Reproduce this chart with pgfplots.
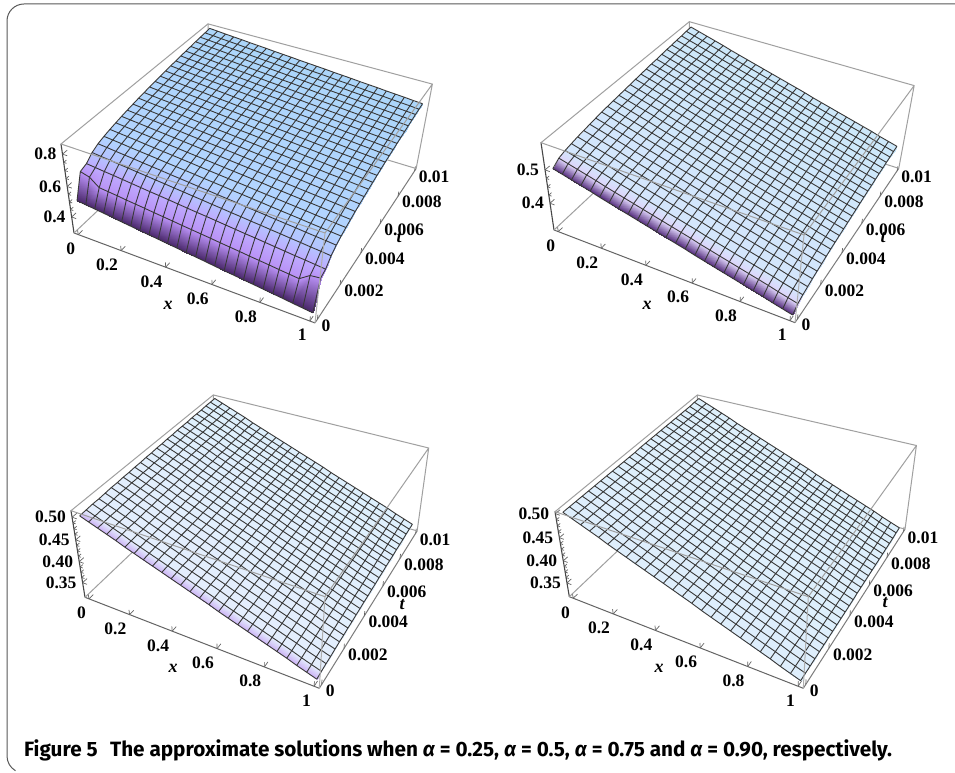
\documentclass[border=0pt]{standalone}
\usepackage{pgfplots}
\usepackage{fontspec}
\pgfplotsset{compat=1.18}
\setmainfont{Liberation Serif}
\newfontfamily\capfont{Fira Sans}
\makeatletter
\newdimen\pNx \newdimen\pNy \newdimen\pWz \newdimen\phx \newdimen\phy \newdimen\phz \newdimen\pWd \newdimen\pCx \newdimen\pCy
% perspective version of pgfplots' projection of a data point
\def\perspqpoint#1#2#3{%
  \pWd=\pWz \advance\pWd by #1\phx \advance\pWd by #2\phy \advance\pWd by #3\phz
  \global\pgf@x=#1\pgf@xx \global\advance\pgf@x by #2\pgf@yx \global\advance\pgf@x by #3\pgf@zx \global\advance\pgf@x by \pNx
  \global\pgf@y=#1\pgf@xy \global\advance\pgf@y by #2\pgf@yy \global\advance\pgf@y by #3\pgf@zy \global\advance\pgf@y by \pNy
  \global\pgf@x=\dimexpr\pgf@x*65536/\number\pWd+\pCx\relax
  \global\pgf@y=\dimexpr\pgf@y*65536/\number\pWd+\pCy\relax}
\makeatother
% box corners in picture coordinates; \P,\Q,\R,\zmn,\zmx set beforehand
\newcommand\setpersp[8]{%
  \pgfmathsetmacro\cx{(#3+#5+#7-#1)/2}\pgfmathsetmacro\cy{(773-#4+773-#6+773-#8-773+#2)/2}%
  \pCx=\cx pt \pCy=\cy pt
  \pgfmathsetmacro\ax{#1-\cx}\pgfmathsetmacro\ay{773-#2-\cy}%
  \pgfmathsetmacro\vxx{((#3-\cx)*\P-\ax)/26}\pgfmathsetmacro\vxy{((773-#4-\cy)*\P-\ay)/26}%
  \pgfmathsetmacro\vyx{((#5-\cx)*\Q-\ax)/26}\pgfmathsetmacro\vyy{((773-#6-\cy)*\Q-\ay)/26}%
  \pgfmathsetmacro\vzx{((#7-\cx)*\R-\ax)/(\zmx-\zmn)}\pgfmathsetmacro\vzy{((773-#8-\cy)*\R-\ay)/(\zmx-\zmn)}%
  \pgfmathsetlengthmacro\tmp{\ax+.5*\vxx+.5*\vyx-\zmn*\vzx}\pNx=\tmp
  \pgfmathsetlengthmacro\tmp{\ay+.5*\vxy+.5*\vyy-\zmn*\vzy}\pNy=\tmp
  \pgfmathsetlengthmacro\tmp{1+.5*(\P-1)/26+.5*(\Q-1)/26-\zmn*(\R-1)/(\zmx-\zmn)}\pWz=\tmp
  \pgfmathsetlengthmacro\tmp{(\P-1)/26}\phx=\tmp
  \pgfmathsetlengthmacro\tmp{(\Q-1)/26}\phy=\tmp
  \pgfmathsetlengthmacro\tmp{(\R-1)/(\zmx-\zmn)}\phz=\tmp
  \pgfmathsetmacro\ox{\cx+(\ax+.5*\vxx+.5*\vyx)/(1+.5*(\P-1)/26+.5*(\Q-1)/26)}%
  \pgfmathsetmacro\oy{\cy+(\ay+.5*\vxy+.5*\vyy)/(1+.5*(\P-1)/26+.5*(\Q-1)/26)}}
% rows of u in thousandths -> coordinate lists (surface; grid lines along x and t)
\newcount\gi \newcount\gj \newcount\gk
\def\cc#1{\csname cl\number#1\endcsname}
\def\scannum#1 {\ifx @#1\let\next\relax\else
  \xdef\acc{\acc(\the\gi,\the\gj,0.#1)}%
  \xdef\accl{\accl(\the\gi,\the\gj,0.#1)}%
  \expandafter\xdef\csname cl\the\gi\endcsname{\cc\gi(\the\gi,\the\gj,0.#1)}%
  \global\advance\gi 1 \ifnum\gi=26 \global\gi=0 \global\advance\gj 1 \xdef\accl{\accl(nan,nan,nan)}\fi\let\next\scannum\fi\next}
\newcommand\loaddata[1]{\gdef\acc{}\gdef\accl{}\global\gi=0 \global\gj=0
  \gk=0 \loop\expandafter\gdef\csname cl\the\gk\endcsname{}\advance\gk 1 \ifnum\gk<26 \repeat
  \expandafter\scannum#1@ %
  \gk=0 \loop\xdef\accl{\accl\cc\gk(nan,nan,nan)}\advance\gk 1 \ifnum\gk<26 \repeat}
\newcommand\plotsurf[1]{\addplot3[surf,shader=interp,mesh/rows=26,mesh/cols=26,mesh/ordering=x varies,point meta=y,point meta min=0,point meta max=25] coordinates {#1};}
\newcommand\plotgrid[1]{\addplot3[black!78,line width=.9pt,mark=none,unbounded coords=jump,line join=round] coordinates {#1};}
\newcommand\row[2]{\expandafter\def\csname r#1\endcsname{#2 }}
\def\r#1{\csname r#1\endcsname}
\row{0}{500 493 486 479 472 464 457 450 443 436 429 422 415 408 401 393 386 379 372 365 358 351 344 336 329 322}
\row{1}{501 494 487 480 473 465 458 451 444 437 430 423 416 409 402 394 387 380 373 366 359 352 345 337 330 323}
\row{2}{502 495 488 481 474 466 459 452 445 438 431 424 417 410 403 395 388 381 374 367 360 353 346 338 331 324}
\row{3}{503 496 489 482 475 467 460 453 446 439 432 425 418 411 404 396 389 382 375 368 361 354 347 339 332 325}
\row{4}{504 497 490 483 476 468 461 454 447 440 433 426 419 412 405 397 390 383 376 369 362 355 348 340 333 326}
\row{5}{505 498 491 484 477 469 462 455 448 441 434 427 420 413 406 398 391 384 377 370 363 356 349 341 334 327}
\row{6}{506 499 492 485 478 470 463 456 449 442 435 428 421 414 407 399 392 385 378 371 364 357 350 342 335 328}
\row{7}{507 500 493 486 479 471 464 457 450 443 436 429 422 415 408 400 393 386 379 372 365 358 351 343 336 329}
\row{8}{508 501 494 487 480 472 465 458 451 444 437 430 423 416 409 401 394 387 380 373 366 359 352 344 337 330}
\row{9}{509 502 495 488 481 473 466 459 452 445 438 431 424 417 410 402 395 388 381 374 367 360 353 345 338 331}
\row{10}{510 503 496 489 482 474 467 460 453 446 439 432 425 418 411 403 396 389 382 375 368 361 354 346 339 332}
\row{11}{511 504 497 490 483 475 468 461 454 447 440 433 426 419 412 404 397 390 383 376 369 362 355 347 340 333}
\row{12}{512 505 498 491 484 476 469 462 455 448 441 434 427 420 413 405 398 391 384 377 370 363 356 348 341 334}
\row{14}{514 507 500 493 486 478 471 464 457 450 443 436 429 422 415 407 400 393 386 379 372 365 358 350 343 336}
\row{20}{520 513 506 499 492 484 477 470 463 456 449 442 435 428 421 413 406 399 392 385 378 371 364 356 349 342}
\row{24}{524 517 510 503 496 488 481 474 467 460 453 446 439 432 425 417 410 403 396 389 382 375 368 360 353 346}
\row{28}{528 521 514 507 500 492 485 478 471 464 457 450 443 436 429 421 414 407 400 393 386 379 372 364 357 350}
\row{31}{531 524 517 510 503 495 488 481 474 467 460 453 446 439 432 424 417 410 403 396 389 382 375 367 360 353}
\row{34}{534 527 520 513 506 498 491 484 477 470 463 456 449 442 435 427 420 413 406 399 392 385 378 370 363 356}
\row{37}{537 530 523 516 509 501 494 487 480 473 466 459 452 445 438 430 423 416 409 402 395 388 381 373 366 359}
\row{40}{540 533 526 519 512 504 497 490 483 476 469 462 455 448 441 433 426 419 412 405 398 391 384 376 369 362}
\row{42}{542 535 528 521 514 506 499 492 485 478 471 464 457 450 443 435 428 421 414 407 400 393 386 378 371 364}
\row{44}{544 537 530 523 516 508 501 494 487 480 473 466 459 452 445 437 430 423 416 409 402 395 388 380 373 366}
\row{46}{546 539 532 525 518 510 503 496 489 482 475 468 461 454 447 439 432 425 418 411 404 397 390 382 375 368}
\row{48}{548 541 534 527 520 512 505 498 491 484 477 470 463 456 449 441 434 427 420 413 406 399 392 384 377 370}
\row{50}{550 543 536 529 522 514 507 500 493 486 479 472 465 458 451 443 436 429 422 415 408 401 394 386 379 372}
\row{52}{552 545 538 531 524 516 509 502 495 488 481 474 467 460 453 445 438 431 424 417 410 403 396 388 381 374}
\row{54}{554 547 540 533 526 518 511 504 497 490 483 476 469 462 455 447 440 433 426 419 412 405 398 390 383 376}
\row{56}{556 549 542 535 528 520 513 506 499 492 485 478 471 464 457 449 442 435 428 421 414 407 400 392 385 378}
\row{58}{558 551 544 537 530 522 515 508 501 494 487 480 473 466 459 451 444 437 430 423 416 409 402 394 387 380}
\row{59}{559 552 545 538 531 523 516 509 502 495 488 481 474 467 460 452 445 438 431 424 417 410 403 395 388 381}
\row{61}{561 554 547 540 533 525 518 511 504 497 490 483 476 469 462 454 447 440 433 426 419 412 405 397 390 383}
\row{63}{563 556 549 542 535 527 520 513 506 499 492 485 478 471 464 456 449 442 435 428 421 414 407 399 392 385}
\row{64}{564 557 550 543 536 528 521 514 507 500 493 486 479 472 465 457 450 443 436 429 422 415 408 400 393 386}
\row{66}{566 559 552 545 538 530 523 516 509 502 495 488 481 474 467 459 452 445 438 431 424 417 410 402 395 388}
\row{67}{567 560 553 546 539 531 524 517 510 503 496 489 482 475 468 460 453 446 439 432 425 418 411 403 396 389}
\row{69}{569 562 555 548 541 533 526 519 512 505 498 491 484 477 470 462 455 448 441 434 427 420 413 405 398 391}
\row{70}{570 563 556 549 542 534 527 520 513 506 499 492 485 478 471 463 456 449 442 435 428 421 414 406 399 392}
\def\dataA{500 493 486 479 472 464 457 450 443 436 429 422 415 408 401 393 386 379 372 365 358 351 344 336 329 322
650 634 587 581 575 568 562 556 549 543 537 530 524 518 512 505 499 493 486 480 474 467 461 455 500 507
665 659 653 648 642 636 630 624 619 613 607 601 595 590 584 578 572 566 561 555 549 543 537 532 526 520
700 694 689 683 678 672 667 661 656 650 645 639 634 628 623 617 612 606 601 595 590 584 579 573 568 562
721 716 710 705 700 694 689 684 678 673 668 662 657 651 646 641 635 630 625 619 614 609 603 598 593 587
734 729 724 718 713 708 703 697 692 687 682 676 671 666 660 655 650 645 639 634 629 624 618 613 608 603
745 740 735 730 724 719 714 709 704 699 693 688 683 678 673 668 662 657 652 647 642 637 631 626 621 616
754 749 744 739 734 729 723 718 713 708 703 698 693 688 683 678 673 667 662 657 652 647 642 637 632 627
763 758 753 748 743 738 733 728 723 718 713 708 703 698 693 688 683 678 673 668 663 658 653 648 643 638
771 766 761 756 751 746 741 736 731 726 722 717 712 707 702 697 692 687 682 677 672 667 662 657 652 647
778 773 768 763 758 754 749 744 739 734 729 724 719 714 709 704 700 695 690 685 680 675 670 665 660 655
785 780 775 770 766 761 756 751 746 741 737 732 727 722 717 712 708 703 698 693 688 683 679 674 669 664
791 786 781 777 772 767 762 757 753 748 743 738 734 729 724 719 714 710 705 700 695 690 686 681 676 671
797 792 788 783 778 773 769 764 759 754 750 745 740 735 731 726 721 716 712 707 702 697 693 688 683 679
803 798 794 789 784 780 775 770 765 761 756 751 747 742 737 733 728 723 718 714 709 704 700 695 690 686
808 803 799 794 789 785 780 775 771 766 761 757 752 747 743 738 733 729 724 719 715 710 705 701 696 692
813 808 804 799 795 790 785 781 776 771 767 762 758 753 748 744 739 734 730 725 721 716 711 707 702 698
818 813 809 804 800 795 791 786 781 777 772 768 763 758 754 749 745 740 736 731 726 722 717 713 708 703
822 817 813 808 804 799 795 790 786 781 777 772 768 763 758 754 749 745 740 736 731 727 722 718 713 709
827 822 818 813 809 804 800 795 791 786 782 777 773 768 764 759 755 750 746 741 737 732 728 723 719 714
831 827 822 818 813 809 804 800 795 791 786 782 777 773 768 764 759 755 751 746 742 737 733 728 724 719
835 831 826 822 817 813 808 804 799 795 791 786 782 777 773 768 764 760 755 751 746 742 737 733 728 724
839 835 830 826 821 817 813 808 804 799 795 790 786 782 777 773 768 764 760 755 751 746 742 738 733 729
843 839 834 830 825 821 817 812 808 804 799 795 790 786 782 777 773 769 764 760 755 751 747 742 738 734
846 842 837 833 829 824 820 816 811 807 802 798 794 789 785 781 776 772 768 763 759 755 750 746 742 737
850 846 841 837 833 828 824 820 815 811 807 802 798 794 790 785 781 777 772 768 764 759 755 751 746 742 }
\edef\dataB{\r{0}\r{14}\r{20}\r{24}\r{28}\r{31}\r{34}\r{37}\r{40}\r{42}\r{44}\r{46}\r{48}\r{50}\r{52}\r{54}\r{56}\r{58}\r{59}\r{61}\r{63}\r{64}\r{66}\r{67}\r{69}\r{70}}
\edef\dataC{\r{0}\r{1}\r{2}\r{2}\r{3}\r{4}\r{4}\r{5}\r{5}\r{6}\r{6}\r{7}\r{7}\r{8}\r{8}\r{9}\r{9}\r{10}\r{10}\r{10}\r{11}\r{11}\r{11}\r{12}\r{12}\r{12}}
\edef\dataD{\r{0}\r{0}\r{0}\r{0}\r{0}\r{0}\r{0}\r{0}\r{0}\r{0}\r{0}\r{0}\r{0}\r{1}\r{1}\r{1}\r{1}\r{1}\r{1}\r{1}\r{1}\r{1}\r{1}\r{1}\r{2}\r{2}}
\definecolor{boxg}{RGB}{160,160,160}
\definecolor{axg}{RGB}{100,100,100}
\pgfplotsset{
  colormap={pa}{rgb255(0cm)=(72,38,105) rgb255(1cm)=(185,145,245) rgb255(2cm)=(190,170,255) rgb255(3cm)=(180,195,255) rgb255(5cm)=(178,212,255) rgb255(25cm)=(172,214,250)},
  colormap={pb}{rgb255(0cm)=(85,45,125) rgb255(1cm)=(222,212,250) rgb255(2cm)=(212,230,252) rgb255(25cm)=(205,232,250)},
  colormap={pc}{rgb255(0cm)=(205,180,245) rgb255(1cm)=(228,238,253) rgb255(25cm)=(222,240,253)},
  colormap={pd}{rgb255(0cm)=(222,238,252) rgb255(25cm)=(222,240,252)},
  panel/.style={
    at={(\ox pt,\oy pt)},anchor=origin,clip=false,disabledatascaling,
    x={(\vxx pt,\vxy pt)},y={(\vyx pt,\vyy pt)},z={(\vzx pt,\vzy pt)},
    xmin=-.5,xmax=25.5,ymin=-.5,ymax=25.5,zmin=\zmn,zmax=\zmx,
    axis x line*=bottom,axis y line*=left,axis z line*=left,
    x axis line style={-,draw=axg,line width=1pt},
    y axis line style={-,draw=axg!85,line width=1pt},
    z axis line style={-,draw=black!72,line width=1.1pt},
    xtick={0,5,10,15,20,25},xticklabels={0,0.2,0.4,0.6,0.8,1},
    ytick={0,5,10,15,20,25},yticklabels={0,0.002,0.004,0.006,0.008,0.01},
    minor z tick num=3,
    tick style={draw=axg,line width=.7pt},major tick length=5pt,minor tick length=3pt,
    every tick label/.append style={font=\bfseries\fontsize{17.5}{18}\selectfont,inner sep=0pt},
    xticklabel style={anchor=north east,xshift=-3pt,yshift=-8pt},
    yticklabel style={anchor=west,xshift=4pt,yshift=-6pt},
    zticklabel style={anchor=east,xshift=-6pt},
    execute at begin axis={\let\pgfplotsqpointxyz\perspqpoint},
  },
  boxl/.style={draw=boxg,line width=1pt,mark=none},
}
\newcommand\boxback[2]{\addplot3[boxl] coordinates {(-.5,-.5,#1)(-.5,25.5,#1)(25.5,25.5,#1)};
  \addplot3[boxl] coordinates {(-.5,25.5,#1)(-.5,25.5,#2)};}
\newcommand\boxfront[2]{\addplot3[boxl] coordinates {(25.5,25.5,#1)(25.5,25.5,#2)(-.5,25.5,#2)(-.5,-.5,#2)(25.5,-.5,#2)(25.5,25.5,#2)};
  \addplot3[boxl,draw=boxg!85] coordinates {(25.5,-.5,#2)(25.5,-.5,#1)};}
\newcommand\drawsurface[1]{\loaddata{#1}\expandafter\plotsurf\expandafter{\acc}\expandafter\plotgrid\expandafter{\accl}}
\begin{document}
\begin{tikzpicture}[x=1pt,y=1pt]
\useasboundingbox (0,0) rectangle (955,773);
\fill[white] (0,0) rectangle (955,773);
\draw[black!65,line width=1pt] (955,769) -- (24,769) arc[start angle=90,end angle=180,radius=17] -- (7,17) arc[start angle=180,end angle=240,radius=17];
% panel 1
\def\P{.9062}\def\Q{1.207}\def\R{.9164}\def\zmn{.29}\def\zmx{.86}
\setpersp{74}{233}{315}{323}{208.6}{106}{61}{144}
\begin{axis}[panel,colormap name=pa,ztick={.4,.6,.8},zticklabels={0.4,0.6,0.8}]
\boxback{.29}{.86}
\drawsurface{\dataA}
\boxfront{.29}{.86}
\end{axis}
% panel 2
\def\P{.9106}\def\Q{1.20}\def\R{.9194}\def\zmn{.315}\def\zmx{.577}
\setpersp{554}{230}{795}{322.7}{690.2}{102.6}{541}{142.7}
\begin{axis}[panel,colormap name=pb,ztick={.4,.5},zticklabels={0.4,0.5}]
\boxback{.315}{.577}
\drawsurface{\dataB}
\boxfront{.315}{.577}
\end{axis}
% panel 3
\def\P{.8753}\def\Q{1.226}\def\R{.9253}\def\zmn{.314}\def\zmx{.514}
\setpersp{85}{597.3}{319.3}{688.3}{216.05}{472.7}{71}{510.7}
\begin{axis}[panel,colormap name=pc,ztick={.35,.4,.45,.5},zticklabels={0.35,0.40,0.45,0.50}]
\boxback{.314}{.514}
\drawsurface{\dataC}
\boxfront{.314}{.514}
\end{axis}
% panel 4
\def\P{.8599}\def\Q{1.214}\def\R{.9266}\def\zmn{.318}\def\zmx{.504}
\setpersp{569.3}{596.7}{803.3}{688.3}{700.5}{472.1}{555}{511.7}
\begin{axis}[panel,colormap name=pd,ztick={.35,.4,.45,.5},zticklabels={0.35,0.40,0.45,0.50}]
\boxback{.318}{.504}
\drawsurface{\dataD}
\boxfront{.318}{.504}
\end{axis}
\foreach \a/\b in {168/468,647/468,173/105,659/105}{\node[font=\bfseries\itshape\fontsize{18}{18}\selectfont] at (\a,\b) {x};}
\foreach \a/\b in {399/535,883/535,402/168,885/170}{\node[font=\bfseries\itshape\fontsize{18}{18}\selectfont] at (\a,\b) {t};}
\node[anchor=west,inner sep=0pt,font=\capfont\fontsize{20.7}{22}\selectfont] at (24,23) {\textbf{Figure 5\hspace{.6em}The approximate solutions when \textit{α} = 0.25, \textit{α} = 0.5, \textit{α} = 0.75 and \textit{α} = 0.90, respectively.}};
\end{tikzpicture}
\end{document}
